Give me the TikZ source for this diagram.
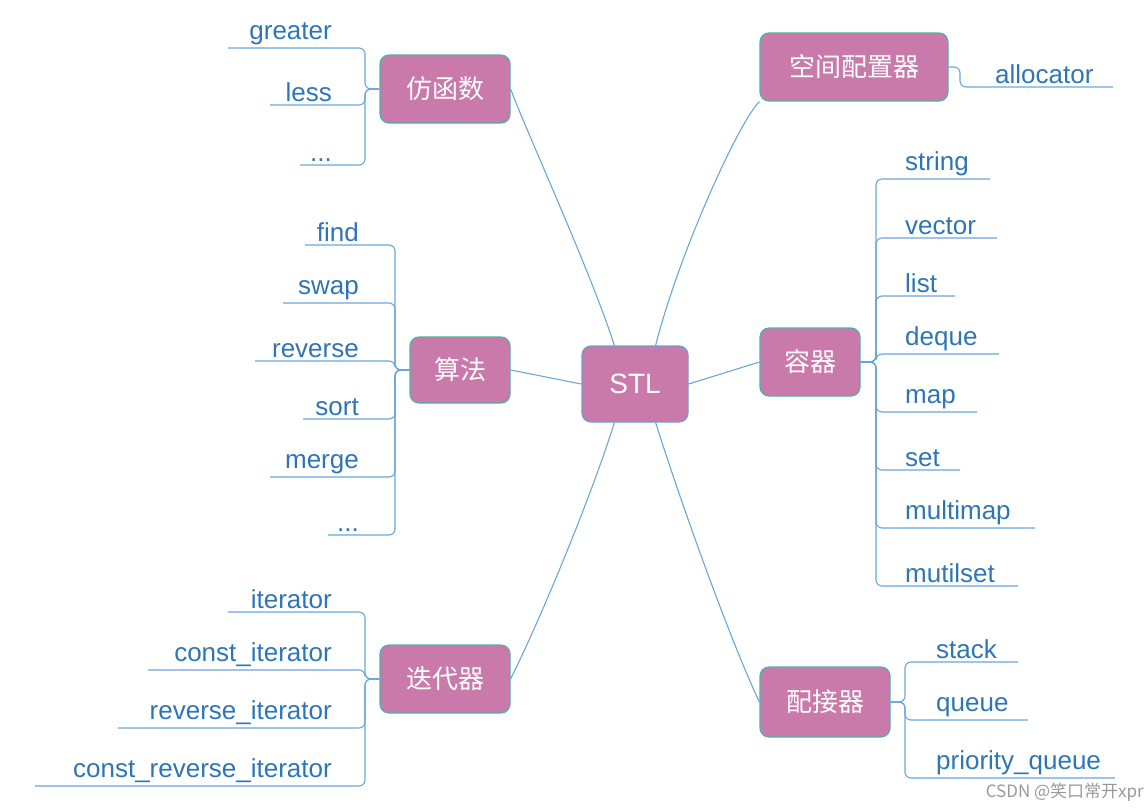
\documentclass[tikz,border=0pt]{standalone}
\usepackage{fontspec}
\setmainfont{Liberation Sans}
\newfontfamily\cjk{Noto Sans CJK SC}
\newcommand\mydots{.{}.{}.}
\definecolor{boxfill}{HTML}{C97AAB}
\definecolor{txtblue}{HTML}{2E75B6}
\definecolor{linblue}{HTML}{6AA6DA}
\definecolor{teal}{HTML}{4DB3A8}
\tikzset{
  topic/.style={draw=teal,line width=1.2pt,fill=boxfill,rounded corners=9pt,text=white,font=\cjk\fontsize{26}{28}\selectfont,inner sep=0pt},
  leaf/.style={text=txtblue,font=\fontsize{26}{28}\selectfont,inner sep=1pt},
  conn/.style={draw=linblue,line width=1.1pt},
  br/.style={conn,rounded corners=6pt}
}
\begin{document}
\begin{tikzpicture}[x=1pt,y=-1pt]
\useasboundingbox (0,0) rectangle (1146,807);
\node[topic,draw=txtblue!70,minimum width=106pt,minimum height=76pt,font=\fontsize{28}{30}\selectfont] (stl) at (635,384) {STL};
\node[topic,minimum width=130pt,minimum height=68pt] (fhs) at (445,89) {仿函数};
\node[topic,minimum width=100pt,minimum height=66pt] (sf) at (460,370) {算法};
\node[topic,minimum width=130pt,minimum height=68pt] (ddq) at (445,679) {迭代器};
\node[topic,minimum width=188pt,minimum height=68pt] (kj) at (854,67) {空间配置器};
\node[topic,minimum width=100pt,minimum height=68pt] (rq) at (810,362) {容器};
\node[topic,minimum width=130pt,minimum height=70pt] (pjq) at (825,702) {配接器};
% main connectors
\draw[conn] (stl.north west)++(33,0) coordinate (s1) .. controls (590,270) and (530,140) .. (fhs.east);
\draw[conn] (stl.west) -- (sf.east);
\draw[conn] (stl.south west)++(33,0) coordinate (s2) .. controls (590,500) and (540,620) .. (ddq.east);
\draw[conn] (stl.north east)++(-33,0) coordinate (s3) .. controls (680,250) and (740,120) .. (kj.south west);
\draw[conn] (stl.east) -- (rq.west);
\draw[conn] (stl.south east)++(-33,0) coordinate (s4) .. controls (680,500) and (730,640) .. (pjq.west);
% left leaves
\foreach \name/\txt/\y/\l in {g/greater/48/228, le/less/105/270, fd/\mydots/165/300}{
  \node[leaf,anchor=south east] (\name) at (333,\y-2) {\txt};
  \draw[br] (fhs.west) -- (365,89) -- (365,\y) -- (\l,\y);
}
\foreach \name/\txt/\y/\l in {fi/find/245/305, sw/swap/303/283, rv/reverse/361/255, so/sort/419/303, me/merge/477/270, ad/\mydots/535/328}{
  \node[leaf,anchor=south east] (\name) at (360,\y-2) {\txt};
  \draw[br] (sf.west) -- (395,370) -- (395,\y) -- (\l,\y);
}
\foreach \name/\txt/\y/\l in {it/iterator/612/228, ci/const\_iterator/670/148, ri/reverse\_iterator/728/118, cri/const\_reverse\_iterator/786/35}{
  \node[leaf,anchor=south east] (\name) at (333,\y-2) {\txt};
  \draw[br] (ddq.west) -- (365,679) -- (365,\y) -- (\l,\y);
}
% right leaves
\node[leaf,anchor=south west] (al) at (994,85) {allocator};
\draw[br] (kj.east) -- (960,67) -- (960,87) -- (1113,87);
\foreach \name/\txt/\y/\r in {st/string/179/990, ve/vector/238/997, li/list/296/955, de/deque/354/999, ma/map/412/977, se/set/470/960, mm/multimap/528/1035, ms/mutilset/586/1018}{
  \node[leaf,anchor=south west] (\name) at (904,\y-2) {\txt};
  \draw[br] (rq.east) -- (876,362) -- (876,\y) -- (\r,\y);
}
\foreach \name/\txt/\y/\r in {sk/stack/662/1018, qu/queue/720/1028, pq/priority\_queue/778/1115}{
  \node[leaf,anchor=south west] (\name) at (935,\y-2) {\txt};
  \draw[br] (pjq.east) -- (905,702) -- (905,\y) -- (\r,\y);
}
\node[text=gray!80,font=\cjk\fontsize{17}{18}\selectfont,anchor=south east,inner sep=2pt] (wm) at (1146,804) {CSDN @笑口常开xpr};
\end{tikzpicture}
\end{document}
